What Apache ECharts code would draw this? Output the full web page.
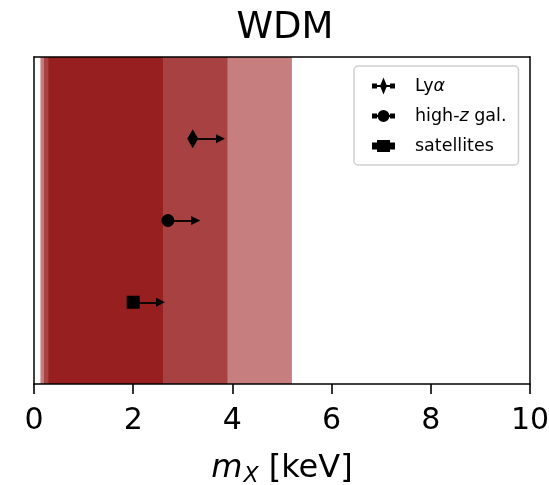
<!DOCTYPE html>
<html>
<head>
<meta charset="utf-8">
<script src="https://cdn.jsdelivr.net/npm/echarts@6/dist/echarts.min.js"></script>
<style>
html,body{margin:0;padding:0;background:#fff;}
#c{width:549px;height:485px;}
</style>
</head>
<body>
<div id="c"></div>
<script>
// ---- data ----
const categories = ['Lyα', 'high-z gal.', 'satellites'];
const legendLabels = ['Ly{i|α}', 'high-{i|z} gal.', 'satellites'];
const mxLimits = [3.2, 2.7, 2.0];          // keV, lower limits
const yPositions = [3, 2, 1];              // vertical placement (arbitrary units 0..4)
const arrowLengths = [0.56, 0.56, 0.55];   // keV, arrow extent
const bandStarts = [0.13, 0.20, 0.29];     // keV
const bandEnds = [5.2, 3.9, 2.6];          // keV
const xTicks = [0, 2, 4, 6, 8, 10];

// ---- styling ----
const FONT = 'DejaVu Sans';
const bandColors = ['#c77e7e', '#a84242', '#971f1f'];
const symbols = ['diamond', 'circle', 'rect'];
const symbolSizes = [[11, 19], 13, 13];
const legendIcons = [
  'path://M0,6h5v5h-5z M5,7.5h18v2h-18z M18,6h5v5h-5z M11.5,0L15,8.5L11.5,17L8,8.5z',
  'path://M0,6h5v5h-5z M5,7.5h18v2h-18z M18,6h5v5h-5z M11.5,2.5A6,6 0 1,1 11.49,2.5z',
  'path://M0,5h5v7h-5z M5,7.5h18v2h-18z M18,5h5v7h-5z M5,2.5h13v12h-13z'
];

const bandSeries = {
  type: 'scatter',
  name: '_bands',
  data: [],
  silent: true,
  markArea: {
    silent: true,
    data: bandStarts.map((s, i) => [
      { xAxis: s, itemStyle: { color: bandColors[i], opacity: 1 } },
      { xAxis: bandEnds[i] }
    ])
  }
};

const pointSeries = categories.map((name, i) => ({
  type: 'scatter',
  name: name,
  data: [[mxLimits[i], yPositions[i]]],
  symbol: symbols[i],
  symbolSize: symbolSizes[i],
  itemStyle: { color: '#000', opacity: 1 },
  z: 5,
  markLine: {
    silent: true,
    symbol: ['none', 'triangle'],
    symbolSize: 9,
    label: { show: false },
    lineStyle: { color: '#000', width: 1.8, type: 'solid', opacity: 1 },
    data: [[
      { coord: [mxLimits[i], yPositions[i]] },
      { coord: [mxLimits[i] + arrowLengths[i], yPositions[i]] }
    ]]
  }
}));

const axisLineStyle = { show: true, onZero: false, lineStyle: { color: '#000', width: 1.5 } };

const option = {
  animation: false,
  backgroundColor: '#fff',
  title: {
    text: 'WDM',
    left: 280,
    textAlign: 'center',
    top: 5,
    textStyle: { fontFamily: FONT, fontSize: 37, fontWeight: 'normal', color: '#000' }
  },
  grid: { left: 34, right: 19, top: 57, bottom: 101, containLabel: false, outerBoundsMode: 'none' },
  legend: {
    orient: 'vertical',
    left: 354,
    top: 66,
    padding: [11, 12, 10, 18],
    itemGap: 12,
    itemWidth: 23,
    itemHeight: 17,
    backgroundColor: '#fff',
    borderColor: '#d0d0d0',
    borderWidth: 1.5,
    borderRadius: 4,
    itemStyle: { color: '#000', opacity: 1, borderWidth: 0 },
    data: categories.map((n, i) => ({ name: n, icon: legendIcons[i], itemStyle: { color: '#000' } })),
    formatter: function (name) { return legendLabels[categories.indexOf(name)]; },
    textStyle: {
      fontFamily: FONT, fontSize: 17.5, color: '#000', padding: [0, 0, 0, 15],
      rich: { i: { fontFamily: FONT, fontSize: 17.5, fontStyle: 'italic', color: '#000' } }
    }
  },
  xAxis: [{
    type: 'value', min: 0, max: 10, interval: 2, position: 'bottom', z: 10,
    axisLine: axisLineStyle,
    axisTick: { show: true, length: 10, lineStyle: { color: '#000', width: 1.6 } },
    axisLabel: {
      fontFamily: FONT, fontSize: 30, color: '#000', margin: 22,
      formatter: function (v) { return xTicks.indexOf(v) >= 0 ? String(v) : ''; }
    },
    splitLine: { show: false },
    name: '{i|m}{s|X} [keV]',
    nameLocation: 'middle',
    nameGap: 66,
    nameTextStyle: {
      fontFamily: FONT, fontSize: 32, color: '#000',
      rich: {
        i: { fontFamily: FONT, fontSize: 32, fontStyle: 'italic', color: '#000' },
        s: { fontFamily: FONT, fontSize: 22, fontStyle: 'italic', color: '#000', padding: [15, 0, 0, 1] }
      }
    }
  }, {
    type: 'value', min: 0, max: 10, position: 'top', z: 10,
    axisLine: axisLineStyle, axisTick: { show: false }, axisLabel: { show: false }, splitLine: { show: false }
  }],
  yAxis: [{
    type: 'value', min: 0, max: 4, position: 'left', z: 10,
    axisLine: axisLineStyle, axisTick: { show: false }, axisLabel: { show: false }, splitLine: { show: false }
  }, {
    type: 'value', min: 0, max: 4, position: 'right', z: 10,
    axisLine: axisLineStyle, axisTick: { show: false }, axisLabel: { show: false }, splitLine: { show: false }
  }],
  series: [bandSeries].concat(pointSeries)
};

const chart = echarts.init(document.getElementById('c'), null, { renderer: 'canvas' });
chart.setOption(option);
</script>
</body>
</html>
